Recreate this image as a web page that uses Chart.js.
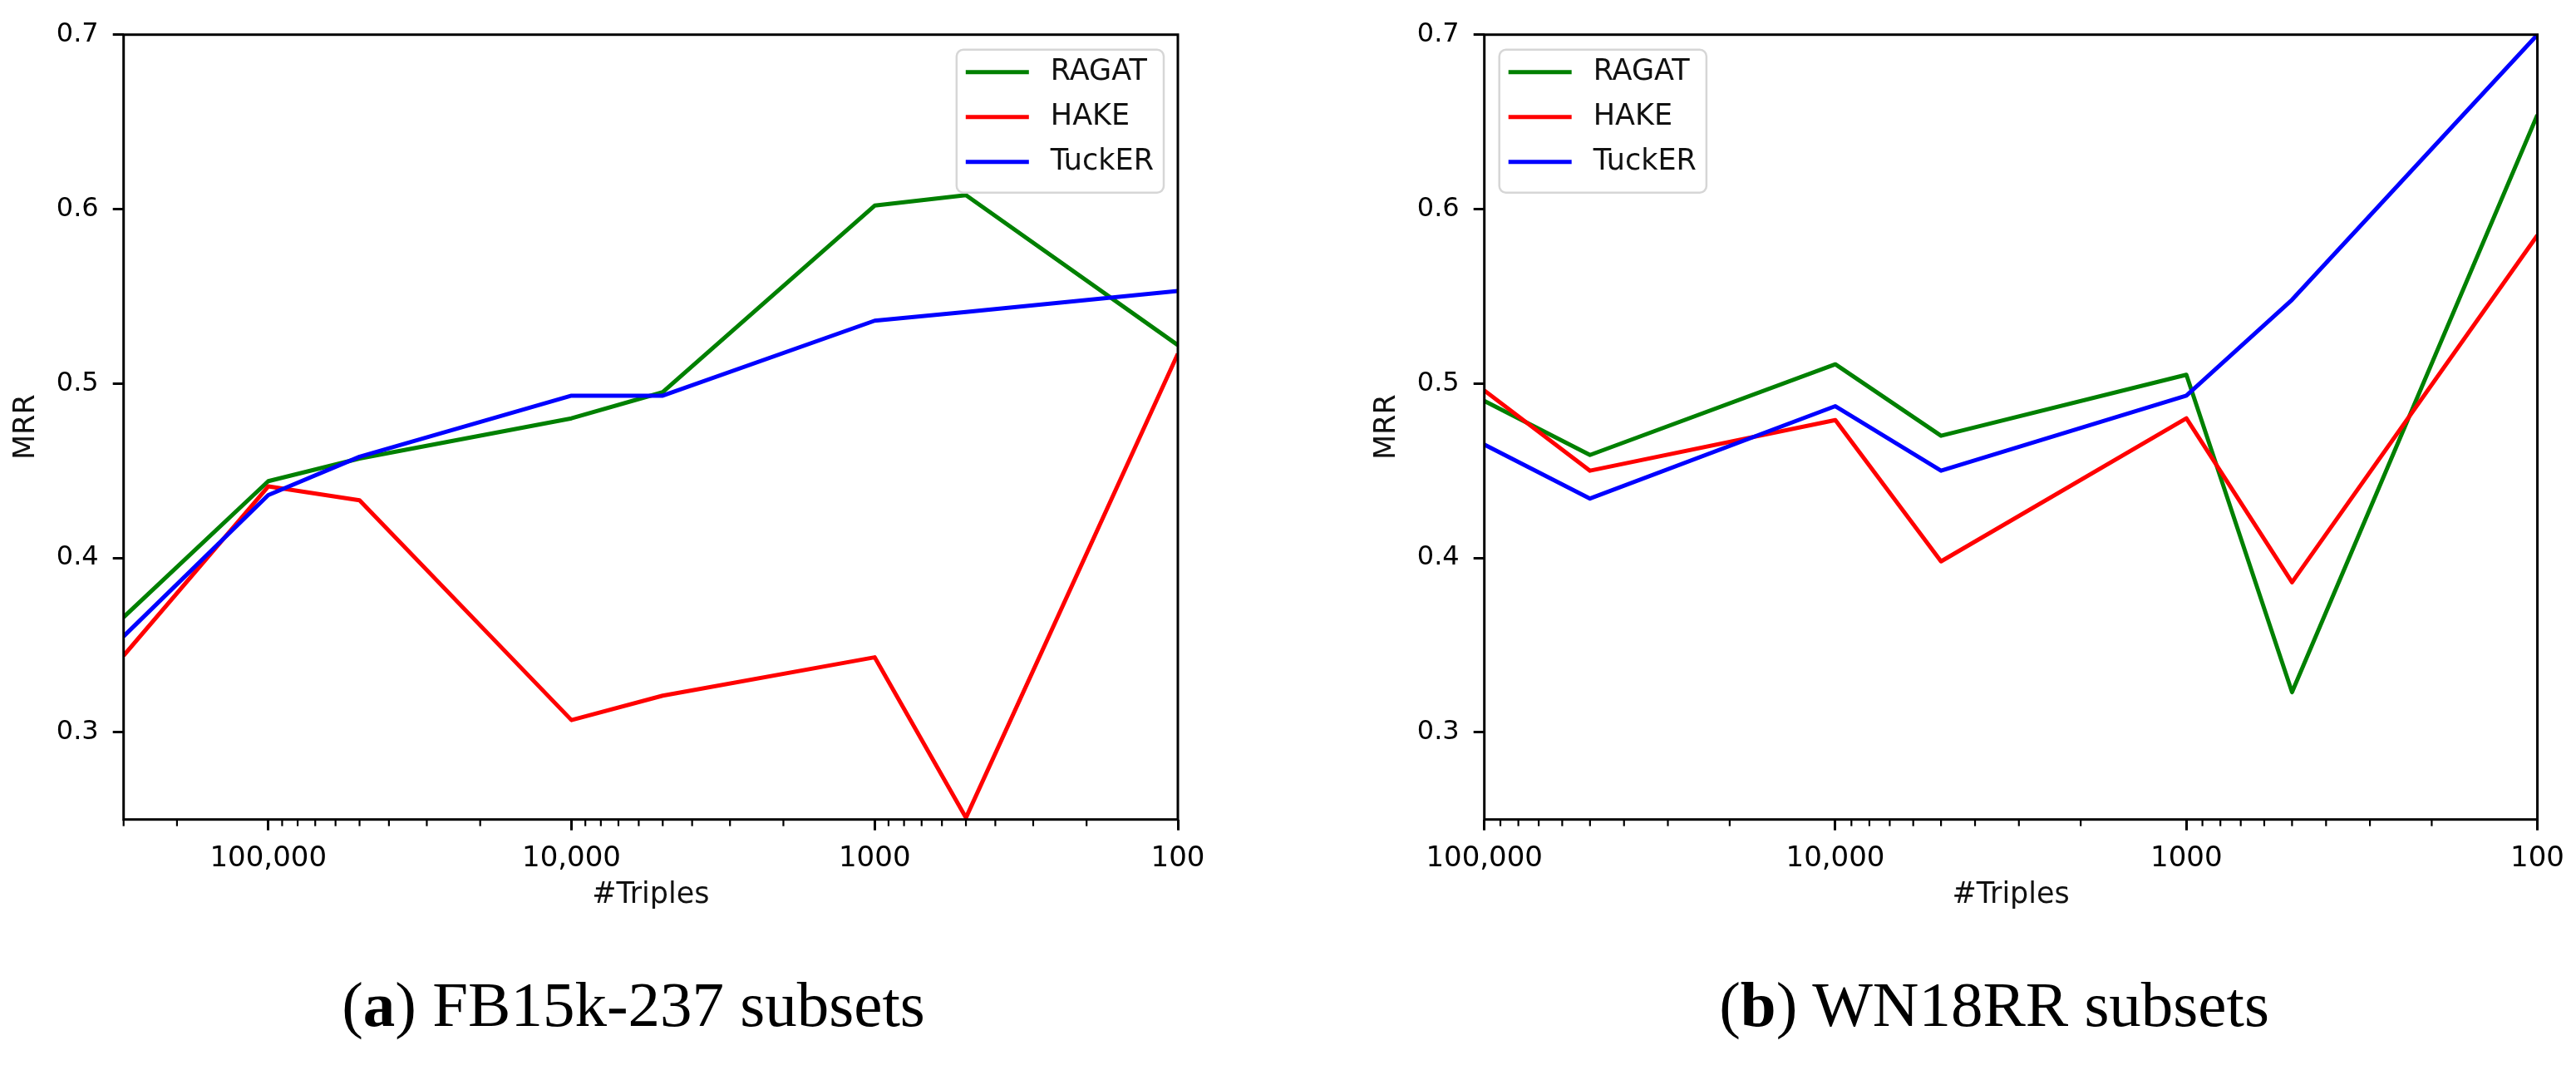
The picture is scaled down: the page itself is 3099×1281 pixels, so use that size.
<!DOCTYPE html>
<html>
<head>
<meta charset="utf-8">
<script src="https://cdn.jsdelivr.net/npm/chart.js@4.4.1/dist/chart.umd.min.js"></script>
<style>
  html, body { margin: 0; padding: 0; background: #fff; }
  body { width: 3099px; height: 1281px; position: relative; overflow: hidden; }
  canvas { position: absolute; top: 0; }
  .cap { position: absolute; top: 1170px; width: 1000px; text-align: center;
         font: 77px/77px "Liberation Serif", serif; color: #000; white-space: nowrap; }
</style>
</head>
<body>
<canvas id="fb" width="1550" height="1140" style="left:0"></canvas>
<canvas id="wn" width="1549" height="1140" style="left:1550px"></canvas>
<div class="cap" style="left:262px">(<b>a</b>) FB15k-237 subsets</div>
<div class="cap" style="left:1899px">(<b>b</b>) WN18RR subsets</div>
<script>
// number of triples in each subset
const FB_TRIPLES = [300000, 100000, 50000, 10000, 5000, 1000, 500, 100];
const WN_TRIPLES = [100000, 50000, 10000, 5000, 1000, 500, 100];

// MRR, FB15k-237 subsets
const FB_RAGAT  = [0.366, 0.444, 0.457, 0.480, 0.495, 0.602, 0.608, 0.522];
const FB_HAKE   = [0.344, 0.441, 0.433, 0.307, 0.321, 0.343, 0.251, 0.517];
const FB_TUCKER = [0.355, 0.436, 0.458, 0.493, 0.493, 0.536, 0.541, 0.553];

// MRR, WN18RR subsets
const WN_RAGAT  = [0.490, 0.459, 0.511, 0.470, 0.505, 0.323, 0.654];
const WN_HAKE   = [0.496, 0.450, 0.479, 0.398, 0.480, 0.386, 0.585];
const WN_TUCKER = [0.465, 0.434, 0.487, 0.450, 0.493, 0.548, 0.700];

const MODELS = ['RAGAT', 'HAKE', 'TuckER'];
const COLORS = ['#008000', '#ff0000', '#0000ff'];

const X_TICKS = [100000, 10000, 1000, 100];
const X_TICK_LABELS = ['100,000', '10,000', '1000', '100'];
const Y_TICKS = [0.3, 0.4, 0.5, 0.6, 0.7];
const Y_MIN = 0.25, Y_MAX = 0.7;

const FONT = 'DejaVu Sans';

// box around the axes, minor log ticks and the matplotlib-like legend
const framePlugin = {
    id: 'frame',
    afterDatasetsDraw(chart, args, opts) {
        const { ctx, chartArea: a } = chart;
        const x = chart.scales.x;
        ctx.save();
        ctx.strokeStyle = '#000';
        ctx.lineWidth = 2.2;
        for (let e = 2; e <= 5; e++) {
            for (let m = 2; m <= 9; m++) {
                const v = m * Math.pow(10, e);
                if (v < x.min || v > x.max) continue;
                const px = x.getPixelForValue(v);
                ctx.beginPath();
                ctx.moveTo(px, a.bottom);
                ctx.lineTo(px, a.bottom + 8);
                ctx.stroke();
            }
        }
        ctx.lineWidth = 3;
        ctx.strokeRect(a.left, a.top, a.right - a.left, a.bottom - a.top);

        // legend
        ctx.font = '35px "' + FONT + '"';
        const items = chart.data.datasets.slice().sort((p, q) => p.legendIndex - q.legendIndex);
        const tw = Math.max(...items.map(d => ctx.measureText(d.label).width));
        const w = 113 + tw + 12, h = 172;
        const bx = opts.corner === 'right' ? a.right - 17 - w : a.left + 18;
        const by = a.top + 18;
        ctx.beginPath();
        ctx.roundRect(bx, by, w, h, 8);
        ctx.fillStyle = 'rgba(255,255,255,0.8)';
        ctx.fill();
        ctx.strokeStyle = '#d6d6d6';
        ctx.lineWidth = 2.5;
        ctx.stroke();
        items.forEach((d, i) => {
            const y = by + 27 + i * 54;
            ctx.strokeStyle = d.borderColor;
            ctx.lineWidth = 5;
            ctx.beginPath();
            ctx.moveTo(bx + 11, y);
            ctx.lineTo(bx + 87, y);
            ctx.stroke();
            ctx.fillStyle = '#111';
            ctx.textBaseline = 'middle';
            ctx.textAlign = 'left';
            ctx.fillText(d.label, bx + 113, y);
        });
        ctx.restore();
    }
};

function makeChart(id, triples, series, xMax, padLeft, padRight, corner) {
    const datasets = series.map((vals, i) => ({
        label: MODELS[i],
        legendIndex: i,
        order: MODELS.length - i,
        data: triples.map((t, j) => ({ x: t, y: vals[j] })),
        borderColor: COLORS[i],
        borderWidth: 5,
        pointRadius: 0,
        tension: 0,
        fill: false,
        borderJoinStyle: 'round',
        clip: 0
    }));

    return new Chart(document.getElementById(id), {
        type: 'line',
        data: { datasets },
        options: {
            responsive: false,
            animation: false,
            devicePixelRatio: 1,
            layout: { padding: { left: padLeft, right: padRight, top: 41.7, bottom: 0 } },
            plugins: {
                legend: { display: false },
                tooltip: { enabled: false },
                frame: { corner }
            },
            scales: {
                x: {
                    type: 'logarithmic',
                    min: 100,
                    max: xMax,
                    reverse: true,
                    afterBuildTicks: s => { s.ticks = X_TICKS.map(v => ({ value: v })); },
                    afterFit: s => { s.height = 1140 - 985.7; },
                    grid: { drawOnChartArea: false, drawTicks: true, tickLength: 13, tickWidth: 3, tickColor: '#000' },
                    border: { display: false },
                    ticks: {
                        autoSkip: false,
                        maxRotation: 0,
                        padding: 14,
                        color: '#000',
                        font: { family: FONT, size: 34 },
                        callback: v => X_TICK_LABELS[X_TICKS.indexOf(v)]
                    },
                    title: {
                        display: true,
                        text: '#Triples',
                        color: '#111',
                        font: { family: FONT, size: 35 },
                        padding: { bottom: 42 }
                    }
                },
                y: {
                    type: 'linear',
                    min: Y_MIN,
                    max: Y_MAX,
                    afterBuildTicks: s => { s.ticks = Y_TICKS.map(v => ({ value: v })); },
                    afterFit: s => { s.width = 148.7; },
                    grid: { drawOnChartArea: false, drawTicks: true, tickLength: 13, tickWidth: 3, tickColor: '#000' },
                    border: { display: false },
                    ticks: {
                        padding: 17,
                        color: '#000',
                        font: { family: FONT, size: 32 },
                        callback: v => v.toFixed(1)
                    },
                    title: {
                        display: true,
                        text: 'MRR',
                        color: '#111',
                        font: { family: FONT, size: 35 },
                        padding: { top: 11 }
                    }
                }
            }
        },
        plugins: [framePlugin]
    });
}

makeChart('fb', FB_TRIPLES, [FB_RAGAT, FB_HAKE, FB_TUCKER], 300000, 0, 133, 'right');
makeChart('wn', WN_TRIPLES, [WN_RAGAT, WN_HAKE, WN_TUCKER], 100000, 87, 44, 'left');
</script>
</body>
</html>
